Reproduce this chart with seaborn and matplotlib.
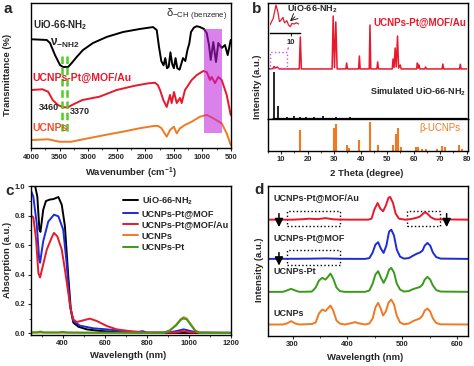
import matplotlib
matplotlib.use("Agg")
import matplotlib.pyplot as plt
import matplotlib.patches as patches
from matplotlib.ticker import MultipleLocator
import seaborn as sns

# ---- colours ----
RED = "#e8192c"
ORANGE = "#f07a22"
BLUE = "#1d2bd8"
GREEN = "#3a9a1c"
PURPLE = "#cc55ee"

# ---- (a) FTIR ----
ftir_uio_wn = [4000, 3725, 3667, 3580, 3492, 3440, 3350, 3288, 3200, 3090, 2915, 2675, 2390,
               2092, 1865, 1800, 1760, 1720, 1680, 1650, 1620, 1590, 1560, 1530, 1500, 1470,
               1440, 1400, 1370, 1340, 1300, 1260, 1230, 1200, 1150, 1100, 1043, 973, 925,
               885, 855, 810, 763, 722, 663, 605, 558, 505]
ftir_uio_t = [75, 74.5, 72.4, 64.1, 57.2, 55.9, 55.9, 58.6, 62.8, 67.6, 72.4, 76.6, 80,
              82.1, 83.4, 81.4, 69.7, 60, 57, 62, 55, 56, 66, 58, 55, 62,
              55, 54, 58, 62, 60, 68, 72, 80, 83, 84, 83.4, 82.1, 79.3,
              71, 60.7, 73.1, 59.3, 72.4, 69, 71, 64.1, 74.5]
ftir_au_wn = [4000, 3800, 3700, 3620, 3530, 3440, 3350, 3280, 3100, 2800, 2500, 2200, 1950,
              1830, 1780, 1742, 1684, 1625, 1567, 1538, 1497, 1450, 1392, 1363, 1305, 1247,
              1188, 1100, 984, 925, 867, 838, 780, 722, 663, 575, 505]
ftir_au_t = [40, 40.5, 38.8, 33.1, 29.7, 28.1, 28.1, 29.7, 33.1, 35.4, 40, 42.8, 44.6,
             45, 43.4, 40, 33.1, 28.3, 36.6, 31, 38.6, 31, 34.5, 31, 40, 43.4,
             46.9, 50.3, 53.1, 52.4, 46.9, 49, 44.8, 49, 46.9, 36.6, 22.8]
ftir_ucnp_wn = [4000, 3700, 3500, 3300, 3000, 2700, 2400, 2100, 1850, 1780, 1720, 1625, 1567,
                1500, 1450, 1392, 1305, 1188, 1043, 925, 810, 663, 575, 505]
ftir_ucnp_t = [5.5, 6, 4.3, 4.3, 6.7, 9, 11.2, 13.6, 15.2, 15.2, 13.8, 7.8, 12.4,
               14.7, 10.1, 13.6, 15.9, 18.1, 21.6, 22.8, 20.5, 17, 10.1, 2.1]
nh2_bands = [3460, 3370]
band_span = (12, 64)
benzene_span = (660, 980)

# ---- (b) XRD ----
xrd_au_2t = [5.0, 6.8, 7.3, 7.8, 8.5, 9.2, 16.8, 17.2, 17.6, 29.2, 29.6, 30.1, 30.6, 31.1,
             34.4, 34.7, 35.0, 39.2, 39.5, 39.8, 43.2, 43.5, 43.8, 46.1, 46.4, 46.7,
             51.9, 52.2, 52.6, 53.0, 53.4, 53.9, 54.3, 54.9, 55.3, 61.1, 61.4, 61.7, 62.0,
             62.3, 64.2, 64.5, 64.8, 70.7, 71.0, 71.3, 77.3, 77.6, 77.9, 80.0]
xrd_au_i = [43.3, 43.5, 45.4, 44.0, 45.0, 43.3, 43.3, 70.8, 43.3, 43.3, 88.8, 44.5, 83.7, 43.3,
            43.3, 48.4, 43.3, 43.3, 54.4, 43.3, 43.3, 81.1, 43.3, 43.3, 49.3, 43.3,
            43.3, 51.9, 44.5, 61.3, 45.0, 71.6, 44.0, 46.7, 43.3, 43.3, 48.4, 44.0, 46.7,
            43.3, 43.3, 45.0, 43.3, 43.3, 47.5, 43.3, 43.3, 47.3, 43.3, 43.3]
sim_uio_2t = [7.4, 8.6, 12.0, 14.7, 17.1, 19.3, 22.3, 25.8, 30.6, 33.0, 35.9, 37.5, 41.0,
              44.5, 47.0, 50.0, 53.0, 57.0]
sim_uio_i = [40.9, 11.4, 1.8, 2.8, 2.2, 1.8, 1.6, 2.6, 1.6, 1.4, 1.6, 1.3, 1.4,
             1.3, 1.3, 1.2, 1.2, 1.2]
sim_base = 0.9
sim_range = (6.5, 80)
ucnp_ref_2t = [17.1, 29.8, 30.7, 34.7, 35.7, 39.5, 43.6, 46.7, 52.0, 53.2, 54.0, 55.1,
               60.7, 61.7, 63.2, 64.7, 68.9, 70.7, 71.7, 77.2, 78.2]
ucnp_ref_i = [65, 72.6, 83.7, 16.3, 8.8, 32.6, 92, 16.3, 16.3, 54.4, 70.7, 10.7,
              10.7, 10.7, 5.5, 5.5, 3.3, 14, 10.7, 18.6, 5.5]
inset_2t = [5.5, 6.2, 6.8, 7.2, 7.55, 7.9, 8.3, 8.65, 9.15, 9.5, 9.9, 10.25, 10.75, 11.2, 11.7]
inset_i = [0.27, 0.49, 0.93, 0.71, 0.38, 0.43, 0.52, 0.34, 0.41, 0.27, 0.21, 0.32, 0.30, 0.34, 0.30]

# ---- (c) UV-vis ----
uv_uio_nm = [250, 270, 280, 290, 295, 308, 321, 340, 356, 380, 396, 411, 427, 439, 451, 475,
             515, 578, 650, 736, 800, 1200]
uv_uio_a = [1.02, 1.0, 0.93, 0.705, 0.69, 0.84, 0.9, 0.91, 0.913, 0.927, 0.875, 0.73, 0.39,
            0.163, 0.073, 0.045, 0.027, 0.016, 0.01, 0.005, 0.003, 0.002]
uv_mof_nm = [250, 261, 277, 289, 293, 308, 332, 359, 380, 403, 419, 435, 451, 483, 546, 625,
             704, 760, 780, 800, 900, 940, 975, 1010, 1050, 1200]
uv_mof_a = [0.97, 0.93, 0.75, 0.5, 0.48, 0.626, 0.76, 0.807, 0.796, 0.705, 0.48, 0.186, 0.084,
            0.052, 0.034, 0.025, 0.012, 0.01, 0.015, 0.005, 0.005, 0.015, 0.027, 0.015, 0.004,
            0.003]
uv_au_nm = [250, 261, 274, 285, 293, 306, 325, 348, 359, 375, 396, 411, 427, 439, 451, 467,
            498, 530, 562, 610, 657, 736, 800, 940, 975, 1010, 1200]
uv_au_a = [0.8, 0.79, 0.64, 0.41, 0.38, 0.457, 0.57, 0.65, 0.683, 0.66, 0.57, 0.434, 0.276,
           0.163, 0.095, 0.077, 0.088, 0.1, 0.084, 0.05, 0.027, 0.012, 0.005, 0.006, 0.015,
           0.006, 0.004]
uv_ucnp_nm = [250, 300, 400, 500, 600, 700, 800, 880, 910, 940, 960, 975, 990, 1010, 1030,
              1050, 1100, 1200]
uv_ucnp_a = [0.005, 0.005, 0.004, 0.003, 0.003, 0.003, 0.003, 0.004, 0.02, 0.06, 0.095, 0.11,
             0.1, 0.06, 0.02, 0.004, 0.003, 0.003]
uv_pt_nm = [250, 280, 295, 310, 380, 400, 420, 500, 700, 880, 910, 940, 960, 975, 990, 1010,
            1030, 1050, 1200]
uv_pt_a = [0.006, 0.007, 0.012, 0.006, 0.006, 0.01, 0.006, 0.005, 0.004, 0.004, 0.02, 0.055,
           0.09, 0.102, 0.094, 0.055, 0.018, 0.004, 0.003]

# ---- (d) upconversion emission (stacked, offset units) ----
em_au_nm = [255, 300, 320, 330, 345, 360, 375, 400, 438, 444, 449, 455, 460, 465, 470, 475,
            478, 483, 488, 494, 505, 515, 525, 532, 537, 541, 546, 552, 560, 620]
em_au_i = [116, 116, 116.5, 117, 116.5, 117.5, 116.3, 116, 116, 117, 126, 132.7, 127, 124.4,
           130, 138, 138.7, 133, 122, 117, 116, 116.5, 117.7, 119, 121.5, 123.4, 122, 118.5,
           116.3, 116]
em_mof_nm = [255, 330, 360, 390, 432, 440, 446, 451, 456, 461, 466, 471, 476, 480, 485, 490,
             496, 503, 512, 520, 527, 532, 537, 541, 546, 551, 556, 562, 570, 620]
em_mof_i = [76.7, 76.9, 77.2, 76.8, 76.7, 77.5, 83, 91, 93.4, 87, 82.7, 90, 104, 106, 100, 86,
            79, 77, 77.5, 80, 82, 83, 85, 90, 92.7, 90, 83, 78.5, 77, 76.7]
em_pt_nm = [255, 282, 290, 297, 304, 312, 335, 342, 348, 354, 360, 364, 369, 374, 380, 386,
            395, 432, 440, 446, 451, 456, 461, 466, 471, 476, 480, 485, 490, 496, 503, 512,
            520, 527, 532, 537, 541, 546, 551, 556, 562, 570, 620]
em_pt_i = [43.7, 43.7, 45.2, 46.7, 45.2, 43.7, 44, 48, 55, 57.7, 56, 58.5, 62, 57, 48, 44.5,
           43.7, 43.7, 45, 52, 61, 64.4, 58, 52.7, 58, 66, 67.7, 63, 52, 46, 44, 44.5,
           46.5, 47.7, 48.5, 51, 56, 58.7, 56, 50, 45.5, 44, 43.7]
em_ucnp_nm = [255, 282, 290, 297, 304, 312, 335, 342, 348, 354, 360, 364, 369, 374, 380, 386,
              395, 408, 414, 420, 432, 440, 446, 451, 456, 460, 465, 470, 475, 480, 485, 490,
              496, 503, 512, 520, 527, 532, 537, 541, 546, 551, 556, 562, 570, 620]
em_ucnp_i = [11, 11, 12.2, 14.4, 12.2, 11, 11.5, 13, 22, 26, 24.5, 27, 30, 25, 15, 12,
             11, 12.5, 13.4, 12.3, 11, 12, 17, 28, 32.7, 28, 20, 24, 33, 36, 31, 20,
             13, 11.3, 12, 14.5, 16, 17, 20, 25, 27, 24, 17, 12.5, 11.2, 11]
quench_boxes = [(289, 109.4, 98, 15), (289, 71, 98, 15), (508, 109.4, 61, 15.6)]
quench_arrows = [(275, 122, 108.5), (275, 83, 70), (581, 122, 108.5)]

# ---- style ----
sns.set_theme(style="ticks")
plt.rcParams["font.family"] = ["Liberation Sans", "DejaVu Sans"]
plt.rcParams.update({
    "font.weight": "bold",
    "axes.labelweight": "bold",
    "mathtext.default": "regular",
    "axes.linewidth": 1.0,
    "xtick.labelsize": 5.5,
    "ytick.labelsize": 5.5,
    "xtick.major.size": 2.5,
    "ytick.major.size": 2.5,
    "xtick.minor.size": 1.5,
    "ytick.minor.size": 1.5,
    "xtick.major.width": 0.8,
    "ytick.major.width": 0.8,
    "xtick.minor.width": 0.6,
    "ytick.minor.width": 0.6,
    "xtick.major.pad": 1.5,
    "ytick.major.pad": 1.5,
    "axes.edgecolor": "black",
})

W, H = 474, 366
fig = plt.figure(figsize=(W / 100, H / 100), dpi=100)


def box(l, t, r, b):
    return [l / W, 1 - b / H, (r - l) / W, (b - t) / H]


def ftext(px, py, s, **kw):
    kw.setdefault("va", "center")
    kw.setdefault("weight", "bold")
    fig.text(px / W, 1 - py / H, s, **kw)


def line(ax, x, y, color, lw=1.3):
    sns.lineplot(x=x, y=y, ax=ax, color=color, lw=lw, sort=False, estimator=None)


# ── (a) ──────────────────────────────────────────────────────────────────────
ax_a = fig.add_axes(box(31, 3, 231, 148))
line(ax_a, ftir_uio_wn, ftir_uio_t, "black", 1.4)
line(ax_a, ftir_au_wn, ftir_au_t, RED, 1.4)
line(ax_a, ftir_ucnp_wn, ftir_ucnp_t, ORANGE, 1.4)
ax_a.axvspan(*benzene_span, ymin=0.103, ymax=0.82, color="#bf1bda", alpha=0.55, lw=0, zorder=5)
for wn in nh2_bands:
    ax_a.plot([wn, wn], band_span, color="#55cc22", ls=(0, (3, 1.5)), lw=1.8, zorder=6)
ax_a.set_xlim(4000, 500)
ax_a.set_ylim(0, 100)
ax_a.set_yticks([])
ax_a.xaxis.set_major_locator(MultipleLocator(500))
ax_a.xaxis.set_minor_locator(MultipleLocator(250))
ax_a.set_xlabel("")
ax_a.set_ylabel("")

ftext(4, 9, "a", size=11)
ftext(33, 25, r"UiO-66-NH$_2$", size=7)
ftext(50, 43, r"ν$_{-NH2}$", size=8.5)
ftext(32, 78, "UCNPs-Pt@MOF/Au", size=7.5, color=RED)
ftext(39, 108, "3460", size=6.5)
ftext(70, 112, "3370", size=6.5)
ftext(32, 128, "UCNPs", size=7.5, color="#f0502a")
ftext(166, 15, r"δ$_{-CH\ (benzene)}$", size=8, weight="normal")
ftext(131, 173, r"Wavenumber (cm$^{-1}$)", size=6.8, ha="center")
ftext(8, 75, "Transmittance (%)", size=6.8, ha="center", rotation=90)

# ── (b) ──────────────────────────────────────────────────────────────────────
ax_bt = fig.add_axes(box(268, 3, 468, 119.3))
ax_bb = fig.add_axes(box(268, 119.3, 468, 150.5), sharex=ax_bt)
line(ax_bt, xrd_au_2t, xrd_au_i, RED, 1.1)
ax_bt.vlines(sim_uio_2t, sim_base, sim_uio_i, color="black", lw=1.2)
ax_bt.hlines(sim_base, *sim_range, color="black", lw=0.9)
ax_bb.vlines(ucnp_ref_2t, 0, ucnp_ref_i, color=ORANGE, lw=1.5)
for ax in (ax_bt, ax_bb):
    ax.set_ylim(0, 100)
    ax.set_yticks([])
    ax.set_ylabel("")
ax_bt.tick_params(axis="x", bottom=False, labelbottom=False)
ax_bb.set_xlim(5, 80.5)
ax_bb.xaxis.set_major_locator(MultipleLocator(10))
ax_bb.xaxis.set_minor_locator(MultipleLocator(5))
ax_bb.set_xlabel("")

ax_bt.add_patch(patches.Rectangle((5.9, 43.9), 6.2, 14.2, fill=False, ec=PURPLE,
                                  ls=":", lw=1.0, zorder=6))
ax_bt.annotate("", xy=(13.3, 64.9), xytext=(12.1, 58.1),
               arrowprops=dict(arrowstyle="-", ls=":", color=PURPLE, lw=1.0))

ax_in = fig.add_axes(box(270, 3, 300, 33))
line(ax_in, inset_2t, inset_i, RED, 0.9)
ax_in.set_xlim(5.5, 12)
ax_in.set_ylim(0, 1)
for side in ("top", "left", "right"):
    ax_in.spines[side].set_visible(False)
ax_in.patch.set_alpha(0)
ax_in.set_yticks([])
ax_in.set_xticks([10])
ax_in.set_xticklabels(["10"])
ax_in.tick_params(axis="x", labelsize=5.5, length=2.5)
ax_in.set_xlabel("")
ax_in.set_ylabel("")
ax_bt.annotate("", xy=(288, H - 23), xytext=(297, H - 15), xycoords="figure pixels",
               textcoords="figure pixels",
               arrowprops=dict(arrowstyle="->", color="black", lw=0.6))

ftext(252, 9, "b", size=11)
ftext(287, 9, r"UiO-66-NH$_2$", size=6.5)
ftext(466, 23, "UCNPs-Pt@MOF/Au", size=7, color=RED, ha="right")
ftext(466, 92, r"Simulated UiO-66-NH$_2$", size=6.5, ha="right")
ftext(440, 128, "β-UCNPs", size=7, color=ORANGE, ha="center", weight="normal")
ftext(367, 173, "2 Theta (degree)", size=6.8, ha="center")
ftext(257, 87, "Intensity (a.u.)", size=6.8, ha="center", rotation=90)

# ── (c) ──────────────────────────────────────────────────────────────────────
ax_c = fig.add_axes(box(31, 186.3, 231, 334.5))
uv_series = [
    (uv_uio_nm, uv_uio_a, "black", r"UiO-66-NH$_2$"),
    (uv_mof_nm, uv_mof_a, BLUE, "UCNPs-Pt@MOF"),
    (uv_au_nm, uv_au_a, RED, "UCNPs-Pt@MOF/Au"),
    (uv_ucnp_nm, uv_ucnp_a, ORANGE, "UCNPs"),
    (uv_pt_nm, uv_pt_a, GREEN, "UCNPs-Pt"),
]
for x, y, c, lab in uv_series:
    sns.lineplot(x=x, y=y, ax=ax_c, color=c, lw=1.4, label=lab, sort=False, estimator=None)
ax_c.set_xlim(250, 1200)
ax_c.set_ylim(-0.008, 1.0)
ax_c.xaxis.set_major_locator(MultipleLocator(200))
ax_c.xaxis.set_minor_locator(MultipleLocator(100))
ax_c.yaxis.set_major_locator(MultipleLocator(0.2))
ax_c.yaxis.set_minor_locator(MultipleLocator(0.1))
ax_c.set_xlabel("")
ax_c.set_ylabel("")
ax_c.legend(loc="upper left", bbox_to_anchor=(0.43, 0.99), frameon=False,
            prop={"weight": "bold", "size": 6.6}, handlelength=1.6, handletextpad=0.4,
            labelspacing=0.25, borderpad=0.2)

ftext(5, 191, "c", size=11)
ftext(128, 356, "Wavelength (nm)", size=6.8, ha="center")
ftext(8, 260, "Absorption (a.u.)", size=6.8, ha="center", rotation=90)

# ── (d) ──────────────────────────────────────────────────────────────────────
ax_d = fig.add_axes(box(268, 186.3, 468, 335.5))
line(ax_d, em_au_nm, em_au_i, RED, 1.4)
line(ax_d, em_mof_nm, em_mof_i, BLUE, 1.4)
line(ax_d, em_pt_nm, em_pt_i, GREEN, 1.4)
line(ax_d, em_ucnp_nm, em_ucnp_i, ORANGE, 1.4)
for x0, y0, w, h in quench_boxes:
    ax_d.add_patch(patches.Rectangle((x0, y0), w, h, fill=False, ec="black", ls=":", lw=1.0))
for x0, y_from, y_to in quench_arrows:
    ax_d.annotate("", xy=(x0, y_to), xytext=(x0, y_from),
                  arrowprops=dict(arrowstyle="-|>,head_length=0.5,head_width=0.25",
                                  color="black", lw=1.1, mutation_scale=10,
                                  shrinkA=0, shrinkB=0))
ax_d.set_xlim(255, 620)
ax_d.set_ylim(0, 149.4)
ax_d.set_yticks([])
ax_d.xaxis.set_major_locator(MultipleLocator(100))
ax_d.xaxis.set_minor_locator(MultipleLocator(50))
ax_d.set_xlabel("")
ax_d.set_ylabel("")

ftext(254, 190, "d", size=11)
ftext(274, 198, "UCNPs-Pt@MOF/Au", size=6.5)
ftext(274, 238, "UCNPs-Pt@MOF", size=6.5)
ftext(274, 271, "UCNPs-Pt", size=6.5)
ftext(274, 313, "UCNPs", size=6.5)
ftext(365, 357, "Wavelength (nm)", size=6.8, ha="center")
ftext(259, 270, "Intensity (a.u.)", size=6.8, ha="center", rotation=90)

for ax in (ax_a, ax_bt, ax_bb, ax_c, ax_d):
    ax.tick_params(which="both", direction="out")
    for s in ax.spines.values():
        s.set_linewidth(1.0)
        s.set_visible(True)

fig.savefig("out.png", dpi=100)
